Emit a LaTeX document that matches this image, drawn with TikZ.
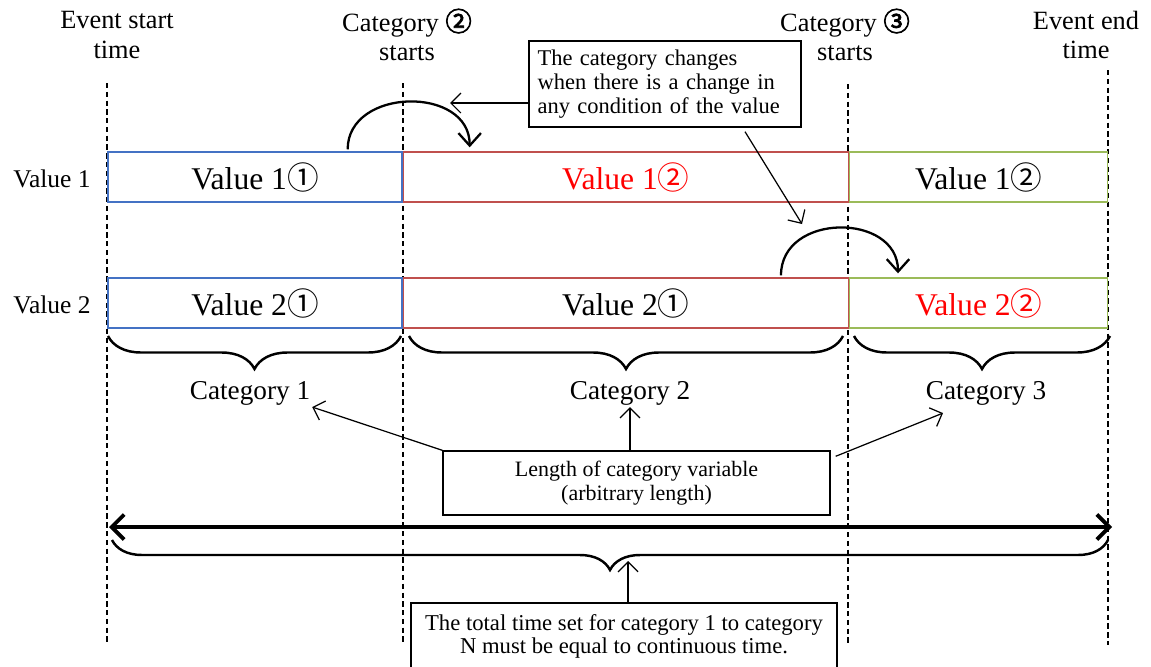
\documentclass[tikz,border=0pt]{standalone}
\usepackage{fontspec}
\setmainfont{Liberation Serif}
\newfontfamily\circfont{Noto Sans CJK JP}
\newfontfamily\circboldfont[FakeBold=3]{Noto Sans CJK JP}
\usepackage{tikz}
\usetikzlibrary{arrows.meta, positioning, decorations.pathreplacing}
\definecolor{boxblue}{RGB}{68,114,196}
\definecolor{boxred}{RGB}{192,80,77}
\definecolor{boxgreen}{RGB}{155,187,89}
\definecolor{valred}{RGB}{255,0,0}
\tikzset{
  valbox/.style={rectangle, fill=white, inner sep=0pt, minimum height=1cm,
    line width=0.8pt, font=\fontsize{18}{20}\selectfont},
  rowlabel/.style={font=\fontsize{14.5}{17}\selectfont},
  toplabel/.style={align=center, inner sep=1pt, font=\fontsize{15}{17}\selectfont},
  catlabel/.style={inner sep=1pt, font=\fontsize{15.5}{17}\selectfont},
  notebox/.style={rectangle, draw, fill=white, line width=0.8pt},
  timeline/.style={dash pattern=on 3pt off 2pt, line width=0.6pt},
  arrow/.style={-{Straight Barb[length=2mm, width=4mm]}, line width=0.7pt},
  jumparrow/.style={-{Straight Barb[length=2.5mm, width=4.5mm]}, line width=1.3pt},
  spanarrow/.style={{Straight Barb[length=2.5mm, width=5mm]}-{Straight Barb[length=2.5mm, width=5mm]}, line width=2.2pt},
  catbrace/.style={decorate, decoration={brace, mirror, amplitude=#1}, line width=1.4pt}
}

\begin{document}
\begin{tikzpicture}[x=0.02cm, y=-0.02cm]
  \useasboundingbox (0,0) rectangle (1151,666);

  % time marks
  \draw[timeline] (107,83) -- (107,645);
  \draw[timeline] (403,83) -- (403,645);
  \draw[timeline] (848,84) -- (848,645);
  \draw[timeline] (1108,70) -- (1108,645);

  \node[toplabel] (evstart) at (117,35) {Event start\\time};
  \node[toplabel] (cat2start) at (407,35) {Category {\circboldfont ②}\\starts};
  \node[toplabel] (cat3start) at (845,35) {Category {\circboldfont ③}\\starts};
  \node[toplabel] (evend) at (1086,35) {Event end\\time};

  % value rows
  \node[rowlabel] (val1) at (52,179) {Value 1};
  \node[rowlabel] (val2) at (52,305) {Value 2};

  \node[valbox, draw=boxblue, minimum width=5.88cm] (v1a) at (255,177) {Value 1{\circfont ①}};
  \node[valbox, draw=boxred, minimum width=8.9cm, text=valred, right=0pt of v1a] (v1b) {Value 1{\circfont ②}};
  \node[valbox, draw=boxgreen, minimum width=5.16cm, right=0pt of v1b] (v1c) {Value 1{\circfont ②}};

  \node[valbox, draw=boxblue, minimum width=5.88cm] (v2a) at (255,303) {Value 2{\circfont ①}};
  \node[valbox, draw=boxred, minimum width=8.9cm, right=0pt of v2a] (v2b) {Value 2{\circfont ①}};
  \node[valbox, draw=boxgreen, minimum width=5.16cm, text=valred, right=0pt of v2b] (v2c) {Value 2{\circfont ②}};

  % changes
  \draw[jumparrow] ([shift={(-55,-2)}]v1a.north east) .. controls +(0,-62) and +(0,-62) .. ([shift={(67,-4)}]v1b.north west);
  \draw[jumparrow] ([shift={(-68,-2)}]v2b.north east) .. controls +(0,-63) and +(0,-61) .. ([shift={(49,-4)}]v2c.north west);

  \node[notebox, align=left, text width=5.1cm, inner xsep=0.17cm, minimum height=1.72cm,
    font=\fontsize{12.8}{13.7}\selectfont] (note) at (665,84)
    {The category changes\\when there is a change in\\any condition of the value};
  \coordinate (noteaim1) at (450,103);
  \coordinate (noteaim2) at (802,224);
  \draw[arrow] (note.west |- noteaim1) -- (noteaim1);
  \draw[arrow] ([shift={(80,4)}]note.south) -- (noteaim2);

  % categories
  \draw[catbrace=0.66cm] (108,336) -- (401,336);
  \draw[catbrace=0.66cm] (409,336) -- (843,336);
  \draw[catbrace=0.66cm] (854,336) -- (1110,336);

  \node[catlabel] (cat1) at (250,393) {Category 1};
  \node[catlabel] (cat2) at (630,393) {Category 2};
  \node[catlabel] (cat3) at (986,393) {Category 3};

  \node[notebox, align=center, minimum width=7.74cm, minimum height=1.28cm,
    font=\fontsize{12.5}{13.7}\selectfont] (lenbox) at (636.5,483)
    {Length of category variable\\(arbitrary length)};
  \draw[arrow] (lenbox.north west) -- (cat1.south east);
  \draw[arrow] (cat2.south |- lenbox.north) -- (cat2.south);
  \draw[arrow] ([shift={(5,6)}]lenbox.north east) -- ([shift={(-43,6)}]cat3.south);

  % whole span
  \coordinate (spanL) at (109,527);
  \coordinate (spanR) at (1112,527);
  \draw[spanarrow] (spanL) -- (spanR);
  \draw[catbrace=0.6cm] (112,540) -- (1108,540);

  \node[notebox, align=center, minimum width=8.52cm, minimum height=1.34cm,
    font=\fontsize{12.9}{13.1}\selectfont] (totbox) at (624,636.5)
    {The total time set for category 1 to category\\N must be equal to continuous time.};
  \coordinate (totaltip) at (628,561);
  \draw[arrow] (totbox.north -| totaltip) -- (totaltip);
\end{tikzpicture}
\end{document}
